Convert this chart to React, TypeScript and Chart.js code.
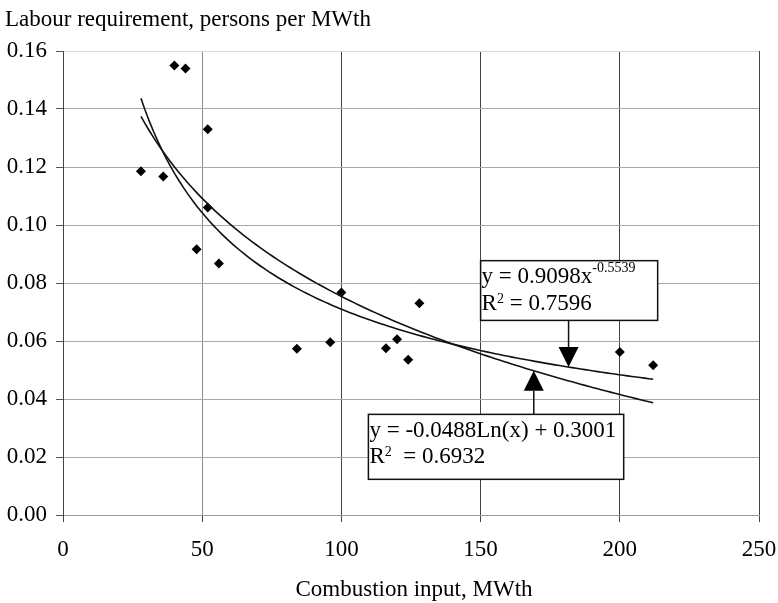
import React, { useEffect, useRef } from 'react';
import { Chart, registerables } from 'chart.js';

Chart.register(...registerables);

// ---- data ----
const combustionInput = [28, 36, 40, 44, 48, 52, 52, 56, 84, 96, 100, 116, 120, 124, 128, 200, 212];
const labourRequirement = [0.1185, 0.1167, 0.155, 0.154, 0.0916, 0.133, 0.106, 0.0867, 0.0573, 0.0596, 0.0767, 0.0575, 0.0606, 0.0535, 0.073, 0.0562, 0.0516];

// trendline coefficients as printed on the chart
const powerCoefA = 0.9098;
const powerCoefB = -0.5539;
const logCoefA = -0.0488;
const logCoefB = 0.3001;
const trendFrom = 28;
const trendTo = 212;

const xTicks = [0, 50, 100, 150, 200, 250];
const yTicks = [0, 0.02, 0.04, 0.06, 0.08, 0.1, 0.12, 0.14, 0.16];

const yTitle = 'Labour requirement, persons per MWth';
const xTitle = 'Combustion input, MWth';

const powerLabel1 = [{ t: 'y = 0.9098x' }, { t: '-0.5539', sup: true, rise: 11 }];
const powerLabel2 = [{ t: 'R' }, { t: '2', sup: true, rise: 7 }, { t: ' = 0.7596' }];
const logLabel1 = [{ t: 'y = -0.0488Ln(x) + 0.3001' }];
const logLabel2 = [{ t: 'R' }, { t: '2', sup: true, rise: 7 }, { t: '  = 0.6932' }];

const FONT = '"Liberation Serif", "Times New Roman", serif';
const FS = 23;

const powerFit = (x: number) => powerCoefA * Math.pow(x, powerCoefB);
const logFit = (x: number) => logCoefA * Math.log(x) + logCoefB;

function trendPoints(fn: (x: number) => number) {
  const pts: { x: number; y: number }[] = [];
  const n = 120;
  for (let i = 0; i <= n; i++) {
    const x = trendFrom + ((trendTo - trendFrom) * i) / n;
    pts.push({ x, y: fn(x) });
  }
  return pts;
}

function drawRich(ctx: CanvasRenderingContext2D, segs: any[], x: number, baseline: number) {
  let cx = x;
  for (const s of segs) {
    ctx.font = `${s.sup ? 14 : FS}px ${FONT}`;
    ctx.fillText(s.t, cx, baseline - (s.sup ? s.rise : 0));
    cx += ctx.measureText(s.t).width;
  }
}

const overlayPlugin = {
  id: 'overlay',
  afterDatasetsDraw(chart: any) {
    const { ctx } = chart;
    const xs = chart.scales.x;
    const ys = chart.scales.y;
    ctx.save();
    ctx.fillStyle = '#000';
    ctx.strokeStyle = '#111';
    ctx.textBaseline = 'alphabetic';
    ctx.textAlign = 'left';

    const box = (x0: number, y0: number, x1: number, y1: number, l1: any[], l2: any[]) => {
      const px0 = xs.getPixelForValue(x0);
      const px1 = xs.getPixelForValue(x1);
      const py0 = ys.getPixelForValue(y0);
      const py1 = ys.getPixelForValue(y1);
      ctx.fillStyle = '#fff';
      ctx.fillRect(px0, py0, px1 - px0, py1 - py0);
      ctx.lineWidth = 1.5;
      ctx.strokeStyle = '#111';
      ctx.strokeRect(px0, py0, px1 - px0, py1 - py0);
      ctx.fillStyle = '#000';
      drawRich(ctx, l1, px0 + 1, py0 + 22.5);
      drawRich(ctx, l2, px0 + 1, py0 + 49);
      return { px0, py0, px1, py1 };
    };

    const arrow = (px: number, fromY: number, tipY: number) => {
      const dir = tipY > fromY ? 1 : -1;
      const baseY = tipY - dir * 20;
      ctx.lineWidth = 1.5;
      ctx.strokeStyle = '#111';
      ctx.beginPath();
      ctx.moveTo(px, fromY);
      ctx.lineTo(px, baseY);
      ctx.stroke();
      ctx.fillStyle = '#000';
      ctx.beginPath();
      ctx.moveTo(px - 10, baseY);
      ctx.lineTo(px + 10, baseY);
      ctx.lineTo(px, tipY);
      ctx.closePath();
      ctx.fill();
    };

    const b1 = box(150, 0.0877, 213.6, 0.0671, powerLabel1, powerLabel2);
    const a1x = 181.6;
    arrow(xs.getPixelForValue(a1x), b1.py1, ys.getPixelForValue(powerFit(a1x)));

    const b2 = box(109.7, 0.0347, 201.4, 0.0123, logLabel1, logLabel2);
    const a2x = 169.1;
    arrow(xs.getPixelForValue(a2x), b2.py0, ys.getPixelForValue(logFit(a2x)));

    ctx.restore();
  },
  afterDraw(chart: any) {
    const { ctx } = chart;
    ctx.save();
    ctx.fillStyle = '#000';
    ctx.font = `${FS}px ${FONT}`;
    ctx.textBaseline = 'alphabetic';
    ctx.textAlign = 'left';
    ctx.fillText(yTitle, 5, 26);
    ctx.textAlign = 'center';
    ctx.fillText(xTitle, 414, 596);
    ctx.restore();
  },
};

export default function App() {
  const ref = useRef<HTMLCanvasElement | null>(null);

  useEffect(() => {
    document.body.style.margin = '0';
    const canvas = ref.current;
    if (!canvas) return;
    const chart = new Chart(canvas, {
      type: 'scatter',
      data: {
        datasets: [
          {
            type: 'line',
            label: 'Power',
            data: trendPoints(powerFit),
            borderColor: '#111',
            borderWidth: 1.6,
            pointRadius: 0,
            fill: false,
            tension: 0,
          } as any,
          {
            type: 'line',
            label: 'Log',
            data: trendPoints(logFit),
            borderColor: '#111',
            borderWidth: 1.6,
            pointRadius: 0,
            fill: false,
            tension: 0,
          } as any,
          {
            type: 'scatter',
            label: 'Plants',
            data: combustionInput.map((x, i) => ({ x, y: labourRequirement[i] })),
            pointStyle: 'rectRot',
            pointRadius: 5,
            backgroundColor: '#000',
            borderColor: '#000',
            borderWidth: 0,
          },
        ],
      },
      options: {
        animation: false,
        responsive: false,
        maintainAspectRatio: false,
        layout: { padding: { top: 51, right: 19, left: 0, bottom: 0 } },
        plugins: { legend: { display: false }, tooltip: { enabled: false }, title: { display: false } },
        scales: {
          x: {
            type: 'linear',
            min: 0,
            max: 250,
            afterBuildTicks: (s: any) => {
              s.ticks = xTicks.map((v) => ({ value: v }));
            },
            afterFit: (s: any) => {
              s.height = 88;
              s.paddingLeft = 0;
              s.paddingRight = 0;
            },
            ticks: {
              color: '#000',
              font: { family: FONT, size: FS },
              padding: 14,
              maxRotation: 0,
              callback: (v: any) => String(v),
            },
            grid: {
              color: (c: any) => (c.tick && c.tick.value === 50 ? '#8c8c8c' : '#444'),
              tickColor: '#444',
              tickLength: 7,
              lineWidth: 1,
            },
            border: { color: '#999', width: 1 },
          },
          y: {
            type: 'linear',
            min: 0,
            max: 0.16,
            afterBuildTicks: (s: any) => {
              s.ticks = yTicks.map((v) => ({ value: v }));
            },
            afterFit: (s: any) => {
              s.width = 63;
              s.paddingTop = 0;
              s.paddingBottom = 0;
            },
            ticks: {
              color: '#000',
              font: { family: FONT, size: FS },
              padding: 9,
              callback: (v: any) => Number(v).toFixed(2),
            },
            grid: {
              color: (c: any) => {
                const v = c.tick ? c.tick.value : -1;
                if (Math.abs(v - 0.16) < 1e-9) return '#d8d8d8';
                if (Math.abs(v) < 1e-9) return '#999';
                return '#a8a8a8';
              },
              tickColor: '#555',
              tickLength: 7,
              lineWidth: 1,
            },
            border: { color: '#444', width: 1 },
          },
        },
      },
      plugins: [overlayPlugin],
    } as any);
    return () => chart.destroy();
  }, []);

  return (
    <div style={{ position: 'absolute', left: 0, top: 0, width: 778, height: 603, background: '#fff' }}>
      <canvas ref={ref} width={778} height={603} style={{ width: 778, height: 603, display: 'block' }} />
    </div>
  );
}
